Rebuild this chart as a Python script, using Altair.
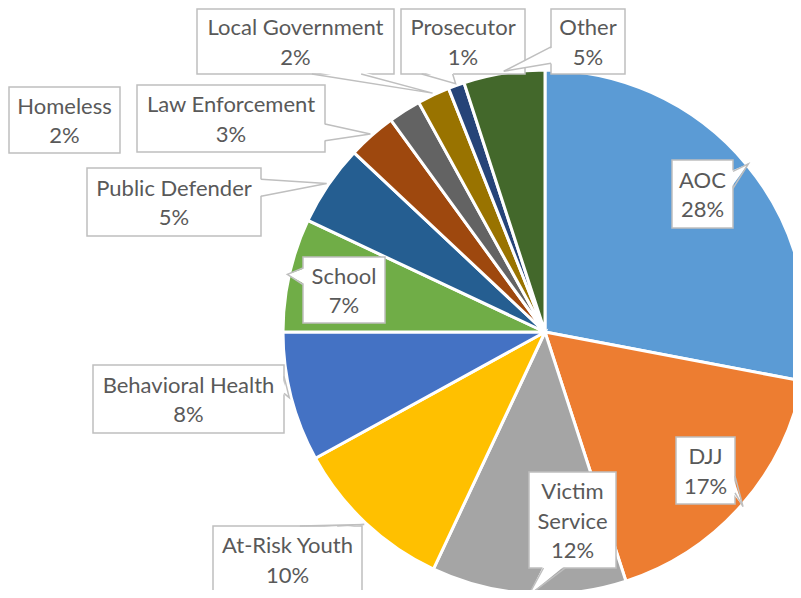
import altair as alt
import pandas as pd
import numpy as np

# ---- data ----
categories = ["AOC", "DJJ", "Victim Service", "At-Risk Youth", "Behavioral Health",
              "School", "Public Defender", "Law Enforcement", "Homeless",
              "Local Government", "Prosecutor", "Other"]
values = [28, 17, 12, 10, 8, 7, 5, 3, 2, 2, 1, 5]
label_lines = [["AOC"], ["DJJ"], ["Victim", "Service"], ["At-Risk Youth"],
               ["Behavioral Health"], ["School"], ["Public Defender"],
               ["Law Enforcement"], ["Homeless"], ["Local Government"],
               ["Prosecutor"], ["Other"]]
colors = ["#5B9BD5", "#ED7D31", "#A5A5A5", "#FFC000", "#4472C4", "#70AD47",
          "#255E91", "#9E480E", "#636363", "#997300", "#264478", "#43682B"]

# ---- callout layout (page pixels: left, top, right, bottom) ----
boxes = [(672, 160, 733, 228), (676, 437, 735, 504), (529, 472, 616, 568),
         (213, 526, 362, 593), (93, 365, 284, 433), (303, 257, 385, 323),
         (87, 168, 261, 236), (137, 85, 325, 152), (9, 87, 120, 153),
         (197, 9, 394, 74), (401, 9, 525, 74), (551, 9, 625, 74)]
has_leader = [True, True, True, True, True, True, True, True, False, True, True, True]

OFF = 8
CX, CY, R = 545 - OFF, 332 - OFF, 262
RT = R + 2
W, H = 785, 582

vals = np.array(values, dtype=float)
mid = (np.cumsum(vals) - vals / 2) / vals.sum() * 2 * np.pi
tips = [(CX + RT * np.sin(a), CY - RT * np.cos(a)) for a in mid]

arc_df = pd.DataFrame({"cat": categories, "value": values, "idx": range(len(values))})

box_rows, fill_rows, line_rows, text_rows = [], [], [], []
for i, cat in enumerate(categories):
    l, t, r, b = [v - OFF for v in boxes[i]]
    box_rows.append({"cat": cat, "l": l, "t": t, "r": r, "b": b})
    w, h = r - l, b - t
    hc, vc = (l + r) / 2, (t + b) / 2
    lines = label_lines[i] + [f"{values[i]}%"]
    n = len(lines)
    for j, s in enumerate(lines):
        text_rows.append({"x": hc, "y": vc + (j - (n - 1) / 2) * 29.5 + 1.5, "t": s})
    if not has_leader[i]:
        continue
    tx, ty = tips[i]
    dx, dy = tx - hc, ty - vc
    if abs(dx) / w > abs(dy) / h:
        sx = r if dx > 0 else l
        fr = (2 / 12, 5 / 12) if dy < 0 else (7 / 12, 10 / 12)
        p1, p2 = (sx, t + h * fr[0]), (sx, t + h * fr[1])
        inw = (-2.5 if dx > 0 else 2.5, 0)
    else:
        sy = b if dy > 0 else t
        fr = (2 / 12, 5 / 12) if dx < 0 else (7 / 12, 10 / 12)
        p1, p2 = (l + w * fr[0], sy), (l + w * fr[1], sy)
        inw = (0, -2.5 if dy > 0 else 2.5)
    for k, (px, py) in enumerate([(p1[0] + inw[0], p1[1] + inw[1]), (tx, ty),
                                   (p2[0] + inw[0], p2[1] + inw[1])]):
        fill_rows.append({"cat": cat, "k": k, "x": px, "y": py})
    for k, (px, py) in enumerate([p1, (tx, ty), p2]):
        line_rows.append({"cat": cat, "k": k, "x": px, "y": py})

box_df = pd.DataFrame(box_rows)
fill_df = pd.DataFrame(fill_rows)
line_df = pd.DataFrame(line_rows)
text_df = pd.DataFrame(text_rows)

arcs = alt.Chart(arc_df).mark_arc(radius=R, stroke="white", strokeWidth=3).encode(
    theta=alt.Theta("value:Q", stack=True),
    color=alt.Color("cat:N", scale=alt.Scale(domain=categories, range=colors), legend=None),
    order=alt.Order("idx:Q"),
    x=alt.value(CX),
    y=alt.value(CY),
)

rects = alt.Chart(box_df).mark_rect(fill="white", stroke="#BFBFBF", strokeWidth=1.5).encode(
    x=alt.X("l:Q", scale=None, axis=None), x2="r:Q",
    y=alt.Y("t:Q", scale=None, axis=None), y2="b:Q",
)

wedge_fill = alt.Chart(fill_df).mark_line(fill="white", stroke="white", strokeOpacity=0, strokeWidth=0).encode(
    x=alt.X("x:Q", scale=None, axis=None), y=alt.Y("y:Q", scale=None, axis=None),
    detail="cat:N", order="k:Q",
)

wedge_line = alt.Chart(line_df).mark_line(stroke="#BFBFBF", strokeWidth=1.5).encode(
    x=alt.X("x:Q", scale=None, axis=None), y=alt.Y("y:Q", scale=None, axis=None),
    detail="cat:N", order="k:Q",
)

texts = alt.Chart(text_df).mark_text(font="Lato", fontSize=22, color="#595959",
                                     align="center", baseline="middle").encode(
    x=alt.X("x:Q", scale=None, axis=None), y=alt.Y("y:Q", scale=None, axis=None),
    text="t:N",
)

chart = alt.layer(arcs, rects, wedge_fill, wedge_line, texts).properties(
    width=W, height=H, padding=0,
    autosize=alt.AutoSizeParams(type="none"),
).configure_view(stroke=None)

chart.save("out.html", embed_options={"renderer": "svg", "actions": False})
